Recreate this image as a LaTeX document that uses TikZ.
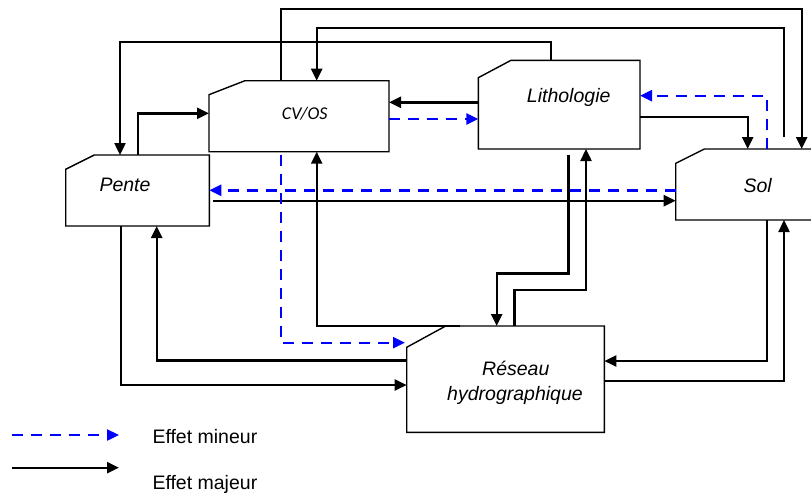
\documentclass[tikz,border=0pt]{standalone}
\usepackage{fontspec}
\setmainfont{Liberation Sans}
\newfontfamily\cvfont{Carlito}
\usetikzlibrary{arrows.meta,calc}
\definecolor{minblue}{RGB}{0,0,255}
\tikzset{
  boxnode/.style={inner sep=0pt,outer sep=0pt,draw=none},
  boxline/.style={draw=black,line width=1.4pt,fill=white},
  boxtext/.style={inner sep=0pt,anchor=base,font=\fontsize{19.5}{26}\selectfont\itshape},
  maj/.style={draw=black,line width=2.4pt,-{Triangle[length=12pt,width=11pt]}},
  mineur/.style={draw=minblue,line width=2.4pt,dash pattern=on 11pt off 8pt,-{Triangle[length=12pt,width=11pt]}},
  legtext/.style={inner sep=0pt,anchor=base west,font=\fontsize{19.5}{24}\selectfont},
}
\newcommand\chambox[3]{%
  \draw[boxline] ($(#1.north west)+(0,#3)$) -- ($(#1.north west)+(#2,0)$) -- (#1.north east) -- (#1.south east) -- (#1.south west) -- cycle;}
\begin{document}
\begin{tikzpicture}[x=1pt,y=-1pt]
\useasboundingbox (0,0) rectangle (811,493);
% box nodes
\node[boxnode,minimum width=180pt,minimum height=71pt] (cv) at (299,116.2) {};
\node[boxnode,minimum width=143.6pt,minimum height=71pt] (pente) at (137.5,190.5) {};
\node[boxnode,minimum width=161.7pt,minimum height=88.7pt] (litho) at (559.15,104.65) {};
\node[boxnode,minimum width=164pt,minimum height=71pt] (sol) at (757.7,184.5) {};
\node[boxnode,minimum width=197.6pt,minimum height=106.3pt] (res) at (505.5,379.15) {};
\chambox{cv}{36}{14}
\chambox{pente}{28.6}{14.3}
\chambox{litho}{32.7}{17.4}
\chambox{sol}{28.6}{14.3}
\chambox{res}{39}{21.3}
% texts
\node[boxtext,font=\fontsize{18}{22}\selectfont\cvfont\itshape] (cvt) at (304.7,119) {CV/OS};
\node[boxtext] (pentet) at (125,191.7) {Pente};
\node[boxtext] (lithot) at (568.7,102.7) {Lithologie};
\node[boxtext] (solt) at (757.7,192) {Sol};
\node[boxtext] (rest1) at (515.8,375) {Réseau};
\node[boxtext] (rest2) at (515,400.7) {hydrographique};
% connectors
\draw[maj] (cv.north west) ++(72,0) -- ++(0,-71.7) -| ($(sol.north west)+(126,0)$);
\draw[maj] ($(sol.north west)+(108.3,-12)$) -- ++(0,-109.3) -| ($(cv.north west)+(107.7,0)$);
\draw[maj] (litho.north west) ++(72.4,0) -- ++(0,-18.6) -| ($(pente.north west)+(54.3,0)$);
\draw[maj] (pente.north west) ++(72,0) |- ($(cv.north west)+(0,32.6)$);
\draw[maj] ($(litho.north west)+(0,42)$) -- ($(cv.north east)+(0,21.6)$);
\draw[mineur] ($(cv.north east)+(0,38.3)$) -- ($(litho.north west)+(0,58.7)$);
\draw[mineur] (sol.north west) ++(91,0) -- ++(0,-53.3) -- ($(litho.north east)+(0,35.4)$);
\draw[maj] ($(litho.north east)+(0,56.4)$) -| ($(sol.north west)+(72,0)$);
\draw[mineur] ($(sol.north west)+(0,41.3)$) -- ($(pente.north east)+(0,35.3)$);
\draw[maj] ($(pente.north east)+(4,45.7)$) -- ($(sol.north west)+(0,51.7)$);
\draw[mineur] ($(cv.south west)+(72,3.3)$) |- ($(res.north west)+(-1.7,16.7)$);
\draw[maj] (res.north west) ++(53.3,0) -| ($(cv.south west)+(107.7,0)$);
\draw[maj] ($(res.north west)+(0,34.3)$) -| ($(pente.south west)+(91,0)$);
\draw[maj] ($(pente.south west)+(55,0)$) |- ($(res.north west)+(0,59)$);
\draw[maj] ($(litho.south west)+(90,6.3)$) -- ++(0,118) -| ($(res.north west)+(90,0)$);
\draw[maj] (res.north west) ++(107.6,0) -- ++(0,-36) -| ($(litho.south west)+(107.7,0)$);
\draw[maj] ($(sol.south west)+(91,0)$) |- ($(res.north east)+(0,35)$);
\draw[maj] ($(res.north east)+(0,55)$) -| ($(sol.south west)+(108.3,0)$);
% legend
\coordinate (la) at (11.7,435);
\coordinate (lb) at (119,435);
\coordinate (lc) at (11.7,467.7);
\coordinate (ld) at (119,467.7);
\draw[mineur] (la) -- (lb);
\draw[maj] (lc) -- (ld);
\node[legtext] (l1) at (152.3,443.3) {Effet mineur};
\node[legtext] (l2) at (152.3,489) {Effet majeur};
\end{tikzpicture}
\end{document}
